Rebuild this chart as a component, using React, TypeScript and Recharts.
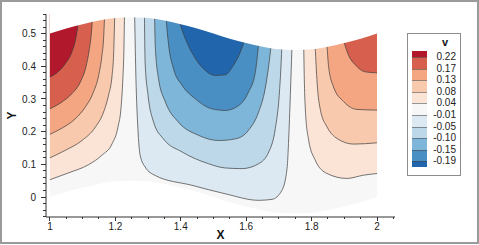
import React from 'react';
import { ComposedChart, Area, XAxis, YAxis, Label } from 'recharts';

// ---------- domain boundaries ----------
const boundaryX = [1.0, 1.05, 1.1, 1.15, 1.2, 1.25, 1.3, 1.35, 1.4, 1.45, 1.5, 1.55, 1.6, 1.65, 1.7, 1.75, 1.8, 1.85, 1.9, 1.95, 2.0];
const boundaryTop = [0.5, 0.516, 0.529, 0.54, 0.548, 0.55, 0.548, 0.54, 0.529, 0.516, 0.5, 0.484, 0.471, 0.46, 0.452, 0.45, 0.452, 0.46, 0.471, 0.484, 0.5];
const boundaryBottom = [0.0, 0.016, 0.029, 0.04, 0.048, 0.05, 0.048, 0.04, 0.029, 0.016, 0.0, -0.016, -0.029, -0.04, -0.048, -0.05, -0.048, -0.04, -0.029, -0.016, 0.0];

// ---------- legend ----------
const legendTitle = 'v';
const levelLabels = ['0.22', '0.17', '0.13', '0.08', '0.04', '-0.01', '-0.05', '-0.10', '-0.15', '-0.19'];
const bandColors = ['#b2182b', '#d6604d', '#f4a582', '#f9c9ad', '#fbe4d6', '#f7f7f7', '#dde9f2', '#bdd8e9', '#7eb6d9', '#4a8fc4', '#2166ac'];

// ---------- contour lines (x, y) ----------
// left lobe, levels 0.04 .. 0.22
const left004X = [1.0, 1.057, 1.118, 1.159, 1.19, 1.208, 1.218, 1.223, 1.226, 1.228];
const left004Y = [0.053, 0.074, 0.099, 0.128, 0.163, 0.214, 0.28, 0.362, 0.443, 0.556];
const left008X = [1.0, 1.047, 1.098, 1.139, 1.164, 1.179, 1.19, 1.195, 1.198];
const left008Y = [0.12, 0.143, 0.173, 0.214, 0.26, 0.311, 0.372, 0.443, 0.554];
const left013X = [1.0, 1.037, 1.077, 1.108, 1.133, 1.149, 1.159, 1.164, 1.167];
const left013Y = [0.192, 0.211, 0.239, 0.275, 0.321, 0.372, 0.433, 0.484, 0.55];
const left017X = [1.0, 1.037, 1.067, 1.093, 1.11, 1.12, 1.126, 1.13];
const left017Y = [0.27, 0.291, 0.316, 0.352, 0.398, 0.449, 0.494, 0.545];
const left022X = [1.0, 1.026, 1.047, 1.067, 1.079, 1.087];
const left022Y = [0.367, 0.384, 0.408, 0.443, 0.484, 0.535];

// central trough, levels -0.01 .. -0.19
const mid001X = [1.259, 1.263, 1.269, 1.276, 1.291, 1.322, 1.434, 1.536, 1.638, 1.679, 1.709, 1.725, 1.73, 1.735, 1.74];
const mid001Y = [0.556, 0.362, 0.209, 0.127, 0.092, 0.066, 0.036, 0.01, -0.01, -0.007, 0.02, 0.087, 0.178, 0.311, 0.458];
const mid005X = [1.289, 1.291, 1.3, 1.317, 1.347, 1.404, 1.485, 1.536, 1.587, 1.638, 1.669, 1.689, 1.701, 1.707, 1.709];
const mid005Y = [0.555, 0.413, 0.311, 0.229, 0.178, 0.138, 0.102, 0.089, 0.087, 0.102, 0.138, 0.209, 0.311, 0.413, 0.46];
const mid010X = [1.32, 1.322, 1.332, 1.353, 1.393, 1.454, 1.516, 1.567, 1.607, 1.638, 1.658, 1.669, 1.676];
const mid010Y = [0.552, 0.464, 0.362, 0.291, 0.229, 0.189, 0.173, 0.178, 0.204, 0.26, 0.331, 0.403, 0.462];
const mid015X = [1.355, 1.363, 1.378, 1.404, 1.444, 1.495, 1.536, 1.577, 1.607, 1.628, 1.638];
const mid015Y = [0.546, 0.464, 0.392, 0.342, 0.301, 0.27, 0.265, 0.28, 0.321, 0.382, 0.469];
const mid019X = [1.395, 1.414, 1.439, 1.47, 1.505, 1.536, 1.561, 1.582, 1.595];
const mid019Y = [0.538, 0.484, 0.433, 0.392, 0.372, 0.374, 0.403, 0.443, 0.479];

// right lobe, levels 0.04 .. 0.17
const right004X = [1.776, 1.778, 1.781, 1.791, 1.811, 1.847, 1.908, 1.959, 2.0];
const right004Y = [0.458, 0.348, 0.266, 0.174, 0.113, 0.072, 0.057, 0.067, 0.072];
const right008X = [1.811, 1.817, 1.827, 1.847, 1.878, 1.929, 2.0];
const right008Y = [0.46, 0.348, 0.266, 0.215, 0.179, 0.162, 0.166];
const right013X = [1.847, 1.852, 1.867, 1.898, 1.939, 2.0];
const right013Y = [0.466, 0.399, 0.337, 0.292, 0.268, 0.266];
const right017X = [1.898, 1.913, 1.934, 1.964, 2.0];
const right017Y = [0.478, 0.434, 0.404, 0.383, 0.38];

// ---------- ticks ----------
const xMajorTicks = [1, 1.2, 1.4, 1.6, 1.8, 2];
const xMinorTicks = [1.05, 1.1, 1.15, 1.25, 1.3, 1.35, 1.45, 1.5, 1.55, 1.65, 1.7, 1.75, 1.85, 1.9, 1.95, 2.05];
const yMajorTicks = [0, 0.1, 0.2, 0.3, 0.4, 0.5];
const yMinorTicks = [-0.06, -0.04, -0.02, 0.02, 0.04, 0.06, 0.08, 0.12, 0.14, 0.16, 0.18, 0.22, 0.24, 0.26, 0.28, 0.32, 0.34, 0.36, 0.38, 0.42, 0.44, 0.46, 0.48, 0.52, 0.54, 0.56];
const xDomain: [number, number] = [0.988, 2.055];
const yDomain: [number, number] = [-0.061, 0.56];

const FONT = '"Liberation Sans", Arial, Helvetica, sans-serif';

const zip = (xs: number[], ys: number[]) => xs.map((x, i) => ({ x, y: ys[i] }));
const domainData = boundaryX.map((x, i) => ({ x, lo: boundaryBottom[i], hi: boundaryTop[i] }));
const maskData = boundaryX.map((x, i) => ({ x, y: boundaryTop[i] }));

const contours = [
  { key: 'l004', d: zip(left004X, left004Y), fill: bandColors[4] },
  { key: 'l008', d: zip(left008X, left008Y), fill: bandColors[3] },
  { key: 'l013', d: zip(left013X, left013Y), fill: bandColors[2] },
  { key: 'l017', d: zip(left017X, left017Y), fill: bandColors[1] },
  { key: 'l022', d: zip(left022X, left022Y), fill: bandColors[0] },
  { key: 'm001', d: zip(mid001X, mid001Y), fill: bandColors[6] },
  { key: 'm005', d: zip(mid005X, mid005Y), fill: bandColors[7] },
  { key: 'm010', d: zip(mid010X, mid010Y), fill: bandColors[8] },
  { key: 'm015', d: zip(mid015X, mid015Y), fill: bandColors[9] },
  { key: 'm019', d: zip(mid019X, mid019Y), fill: bandColors[10] },
  { key: 'r004', d: zip(right004X, right004Y), fill: bandColors[4] },
  { key: 'r008', d: zip(right008X, right008Y), fill: bandColors[3] },
  { key: 'r013', d: zip(right013X, right013Y), fill: bandColors[2] },
  { key: 'r017', d: zip(right017X, right017Y), fill: bandColors[1] },
];

const XTick = (props: any) => {
  const { x, y, payload } = props;
  const v = payload.value;
  const major = xMajorTicks.includes(v);
  return (
    <g>
      <line x1={x} y1={y} x2={x} y2={y + (major ? 4 : 2)} stroke="#333" shapeRendering="crispEdges" />
      {major && (
        <text x={x} y={y + 13} textAnchor="middle" fontSize={10} fill="#222" fontFamily={FONT}>
          {String(v)}
        </text>
      )}
    </g>
  );
};

const YTick = (props: any) => {
  const { x, y, payload } = props;
  const v = payload.value;
  const major = yMajorTicks.includes(v);
  return (
    <g>
      <line x1={x} y1={y} x2={x - (major ? 5 : 3)} y2={y} stroke="#333" shapeRendering="crispEdges" />
      {major && (
        <text x={x - 10} y={y + 3.6} textAnchor="end" fontSize={10} fill="#222" fontFamily={FONT}>
          {String(v)}
        </text>
      )}
    </g>
  );
};

const XTitle = (props: any) => {
  const vb = props.viewBox;
  return (
    <text x={vb.x + vb.width / 2} y={vb.y + 22} textAnchor="middle" fontSize={12} fontWeight="bold" fill="#111" fontFamily={FONT}>
      X
    </text>
  );
};

const YTitle = (props: any) => {
  const vb = props.viewBox;
  const cx = vb.x + 15.5;
  const cy = vb.y + vb.height / 2;
  return (
    <text x={cx} y={cy} transform={`rotate(-90, ${cx}, ${cy})`} textAnchor="middle" fontSize={12} fontWeight="bold" fill="#111" fontFamily={FONT}>
      Y
    </text>
  );
};

const LegendBox = () => {
  const top0 = 50.5;
  const first = 6.5;
  const step = 11.6;
  const last = 6;
  const swatches = bandColors.map((c, i) => {
    const t = i === 0 ? top0 : top0 + first + (i - 1) * step;
    const h = i === 0 ? first : i === bandColors.length - 1 ? last : step;
    return { c, t, h };
  });
  return (
    <div style={{ position: 'absolute', left: 0, top: 0, width: 0, height: 0 }}>
      <div
        style={{
          position: 'absolute', left: 407, top: 33, width: 54, height: 143,
          border: '1px solid #8c8c8c', boxSizing: 'border-box', background: '#fff',
        }}
      />
      <div
        style={{
          position: 'absolute', left: 435, top: 36, width: 20, textAlign: 'center',
          fontFamily: FONT, fontWeight: 'bold', fontSize: 11, lineHeight: '13px', color: '#111',
        }}
      >
        {legendTitle}
      </div>
      {swatches.map((s, i) => (
        <div
          key={i}
          style={{
            position: 'absolute', left: 412, top: s.t, width: 15, height: s.h, background: s.c,
            borderTop: i === 0 ? 'none' : '1px solid rgba(70,70,70,0.55)', boxSizing: 'border-box',
          }}
        />
      ))}
      {levelLabels.map((l, i) => (
        <div
          key={l}
          style={{
            position: 'absolute', left: 426, width: 30, top: top0 + first + i * step - 6, height: 12,
            textAlign: 'right', fontFamily: FONT, fontSize: 10, lineHeight: '12px', color: '#222',
          }}
        >
          {l}
        </div>
      ))}
    </div>
  );
};

export default function App() {
  return (
    <div style={{ position: 'absolute', left: 0, top: 0, width: 479, height: 245, background: '#fff', overflow: 'hidden' }}>
      <div style={{ position: 'absolute', left: 0, top: 0, width: 479, height: 244, border: '2px solid #9a9a9a', boxSizing: 'border-box' }} />
      <div style={{ position: 'absolute', left: 0, top: 0 }}>
        <ComposedChart width={479} height={245} margin={{ top: 14, right: 84, bottom: 0, left: 0 }}>
          <XAxis
            dataKey="x"
            type="number"
            domain={xDomain}
            allowDataOverflow
            ticks={[...xMajorTicks, ...xMinorTicks].sort((a, b) => a - b)}
            interval={0}
            tickSize={0}
            tickMargin={0}
            tickLine={false}
            tick={<XTick />}
            axisLine={{ stroke: '#333' }}
            height={28}
          >
            <Label content={<XTitle />} />
          </XAxis>
          <YAxis
            type="number"
            domain={yDomain}
            allowDataOverflow
            ticks={[...yMajorTicks, ...yMinorTicks].sort((a, b) => a - b)}
            interval={0}
            tickSize={0}
            tickMargin={0}
            tickLine={false}
            tick={<YTick />}
            axisLine={{ stroke: '#333' }}
            width={46}
          >
            <Label content={<YTitle />} />
          </YAxis>
          <Area
            data={domainData}
            dataKey={(d: any) => [d.lo, d.hi]}
            type="monotone"
            fill={bandColors[5]}
            fillOpacity={1}
            stroke="none"
            isAnimationActive={false}
            dot={false}
            activeDot={false}
          />
          {contours.map((c) => (
            <Area
              key={c.key}
              data={c.d}
              dataKey="y"
              type="monotone"
              baseValue="dataMax"
              fill={c.fill}
              fillOpacity={1}
              stroke="#3c3c3c"
              strokeWidth={0.7}
              isAnimationActive={false}
              dot={false}
              activeDot={false}
            />
          ))}
          <Area
            data={maskData}
            dataKey="y"
            type="monotone"
            baseValue="dataMax"
            fill="#ffffff"
            fillOpacity={1}
            stroke="none"
            isAnimationActive={false}
            dot={false}
            activeDot={false}
          />
        </ComposedChart>
      </div>
      <LegendBox />
    </div>
  );
}
